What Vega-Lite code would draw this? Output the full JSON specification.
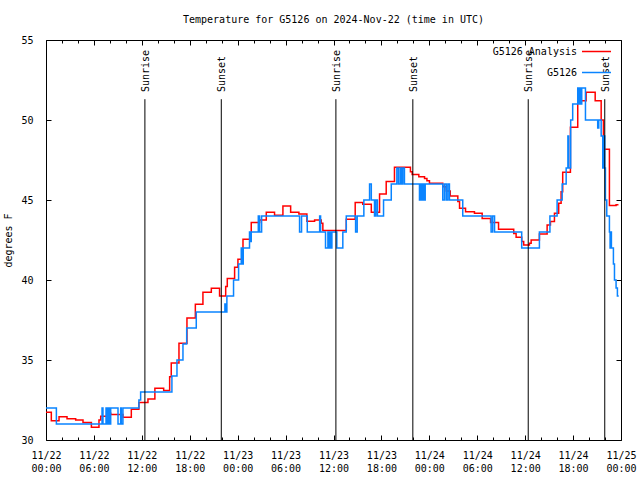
{
  "$schema": "https://vega.github.io/schema/vega-lite/v6.json",
  "width": 575,
  "height": 400,
  "autosize": {"type": "none"},
  "padding": {"left": 46, "top": 40, "right": 19, "bottom": 40},
  "background": "white",
  "title": {"text": "Temperature for G5126 on 2024-Nov-22 (time in UTC)", "font": "DejaVu Sans Mono", "fontSize": 10, "fontWeight": "normal", "anchor": "middle", "frame": "group", "offset": 10, "color": "black"},
  "config": {
    "view": {"stroke": "black", "strokeWidth": 1},
    "font": "DejaVu Sans Mono",
    "axis": {"labelFont": "DejaVu Sans Mono", "labelFontSize": 10, "labelColor": "black", "tickColor": "black", "tickWidth": 1, "domain": false, "grid": false, "titleFont": "DejaVu Sans Mono", "titleFontSize": 10, "titleFontWeight": "normal", "titleColor": "black", "labelFlush": false, "labelOverlap": false, "labelBound": false},
    "legend": {"orient": "none", "legendX": 535, "legendY": -4, "title": null, "symbolType": "M-1,0H1", "symbolSize": 841, "symbolStrokeWidth": 1.5, "labelFont": "DejaVu Sans Mono", "labelFontSize": 10, "labelColor": "black", "labelAlign": "right", "labelOffset": -35, "rowPadding": 0, "padding": 0}
  },
  "datasets": {
    "sun": [
      {"t": "2024-11-22T12:23Z", "label": "Sunrise"},
      {"t": "2024-11-22T21:57Z", "label": "Sunset"},
      {"t": "2024-11-23T12:18Z", "label": "Sunrise"},
      {"t": "2024-11-23T21:56Z", "label": "Sunset"},
      {"t": "2024-11-24T12:23Z", "label": "Sunrise"},
      {"t": "2024-11-24T21:58Z", "label": "Sunset"}
    ],
    "analysis": [
      {"series": "G5126 Analysis", "t": "2024-11-22T00:00Z", "T": 31.73},
      {"series": "G5126 Analysis", "t": "2024-11-22T00:40Z", "T": 31.21},
      {"series": "G5126 Analysis", "t": "2024-11-22T01:38Z", "T": 31.45},
      {"series": "G5126 Analysis", "t": "2024-11-22T02:38Z", "T": 31.33},
      {"series": "G5126 Analysis", "t": "2024-11-22T03:43Z", "T": 31.25},
      {"series": "G5126 Analysis", "t": "2024-11-22T04:38Z", "T": 31.1},
      {"series": "G5126 Analysis", "t": "2024-11-22T05:41Z", "T": 30.8},
      {"series": "G5126 Analysis", "t": "2024-11-22T06:38Z", "T": 31.25},
      {"series": "G5126 Analysis", "t": "2024-11-22T06:51Z", "T": 31.48},
      {"series": "G5126 Analysis", "t": "2024-11-22T07:46Z", "T": 31.67},
      {"series": "G5126 Analysis", "t": "2024-11-22T08:06Z", "T": 31.6},
      {"series": "G5126 Analysis", "t": "2024-11-22T09:38Z", "T": 31.42},
      {"series": "G5126 Analysis", "t": "2024-11-22T10:41Z", "T": 31.92},
      {"series": "G5126 Analysis", "t": "2024-11-22T11:38Z", "T": 32.35},
      {"series": "G5126 Analysis", "t": "2024-11-22T12:46Z", "T": 32.56},
      {"series": "G5126 Analysis", "t": "2024-11-22T13:38Z", "T": 33.23},
      {"series": "G5126 Analysis", "t": "2024-11-22T14:44Z", "T": 33.1},
      {"series": "G5126 Analysis", "t": "2024-11-22T15:29Z", "T": 33.96},
      {"series": "G5126 Analysis", "t": "2024-11-22T15:41Z", "T": 34.81},
      {"series": "G5126 Analysis", "t": "2024-11-22T16:39Z", "T": 36.04},
      {"series": "G5126 Analysis", "t": "2024-11-22T17:39Z", "T": 37.63},
      {"series": "G5126 Analysis", "t": "2024-11-22T18:42Z", "T": 38.48},
      {"series": "G5126 Analysis", "t": "2024-11-22T19:39Z", "T": 39.23},
      {"series": "G5126 Analysis", "t": "2024-11-22T20:42Z", "T": 39.48},
      {"series": "G5126 Analysis", "t": "2024-11-22T21:44Z", "T": 39.0},
      {"series": "G5126 Analysis", "t": "2024-11-22T22:30Z", "T": 39.6},
      {"series": "G5126 Analysis", "t": "2024-11-22T22:42Z", "T": 40.1},
      {"series": "G5126 Analysis", "t": "2024-11-22T23:37Z", "T": 40.8},
      {"series": "G5126 Analysis", "t": "2024-11-23T00:02Z", "T": 41.29},
      {"series": "G5126 Analysis", "t": "2024-11-23T00:40Z", "T": 42.54},
      {"series": "G5126 Analysis", "t": "2024-11-23T01:42Z", "T": 43.6},
      {"series": "G5126 Analysis", "t": "2024-11-23T02:45Z", "T": 43.75},
      {"series": "G5126 Analysis", "t": "2024-11-23T03:35Z", "T": 44.23},
      {"series": "G5126 Analysis", "t": "2024-11-23T04:37Z", "T": 44.04},
      {"series": "G5126 Analysis", "t": "2024-11-23T05:40Z", "T": 44.62},
      {"series": "G5126 Analysis", "t": "2024-11-23T06:38Z", "T": 44.23},
      {"series": "G5126 Analysis", "t": "2024-11-23T07:40Z", "T": 44.12},
      {"series": "G5126 Analysis", "t": "2024-11-23T08:40Z", "T": 43.67},
      {"series": "G5126 Analysis", "t": "2024-11-23T09:38Z", "T": 43.75},
      {"series": "G5126 Analysis", "t": "2024-11-23T10:28Z", "T": 43.54},
      {"series": "G5126 Analysis", "t": "2024-11-23T10:40Z", "T": 43.1},
      {"series": "G5126 Analysis", "t": "2024-11-23T13:36Z", "T": 43.8},
      {"series": "G5126 Analysis", "t": "2024-11-23T14:43Z", "T": 44.85},
      {"series": "G5126 Analysis", "t": "2024-11-23T15:40Z", "T": 44.73},
      {"series": "G5126 Analysis", "t": "2024-11-23T16:44Z", "T": 44.23},
      {"series": "G5126 Analysis", "t": "2024-11-23T17:46Z", "T": 45.38},
      {"series": "G5126 Analysis", "t": "2024-11-23T18:36Z", "T": 46.15},
      {"series": "G5126 Analysis", "t": "2024-11-23T19:38Z", "T": 47.04},
      {"series": "G5126 Analysis", "t": "2024-11-23T21:38Z", "T": 46.77},
      {"series": "G5126 Analysis", "t": "2024-11-23T21:51Z", "T": 46.6},
      {"series": "G5126 Analysis", "t": "2024-11-23T22:41Z", "T": 46.46},
      {"series": "G5126 Analysis", "t": "2024-11-23T23:24Z", "T": 46.35},
      {"series": "G5126 Analysis", "t": "2024-11-23T23:42Z", "T": 46.2},
      {"series": "G5126 Analysis", "t": "2024-11-24T00:01Z", "T": 46.04},
      {"series": "G5126 Analysis", "t": "2024-11-24T01:41Z", "T": 45.83},
      {"series": "G5126 Analysis", "t": "2024-11-24T02:07Z", "T": 45.56},
      {"series": "G5126 Analysis", "t": "2024-11-24T02:37Z", "T": 45.25},
      {"series": "G5126 Analysis", "t": "2024-11-24T03:34Z", "T": 44.9},
      {"series": "G5126 Analysis", "t": "2024-11-24T03:47Z", "T": 44.48},
      {"series": "G5126 Analysis", "t": "2024-11-24T04:32Z", "T": 44.27},
      {"series": "G5126 Analysis", "t": "2024-11-24T05:39Z", "T": 44.17},
      {"series": "G5126 Analysis", "t": "2024-11-24T06:37Z", "T": 43.85},
      {"series": "G5126 Analysis", "t": "2024-11-24T07:40Z", "T": 43.6},
      {"series": "G5126 Analysis", "t": "2024-11-24T08:40Z", "T": 43.17},
      {"series": "G5126 Analysis", "t": "2024-11-24T10:34Z", "T": 42.9},
      {"series": "G5126 Analysis", "t": "2024-11-24T10:52Z", "T": 42.67},
      {"series": "G5126 Analysis", "t": "2024-11-24T11:34Z", "T": 42.4},
      {"series": "G5126 Analysis", "t": "2024-11-24T11:49Z", "T": 42.19},
      {"series": "G5126 Analysis", "t": "2024-11-24T12:32Z", "T": 42.3},
      {"series": "G5126 Analysis", "t": "2024-11-24T12:45Z", "T": 42.5},
      {"series": "G5126 Analysis", "t": "2024-11-24T13:47Z", "T": 42.88},
      {"series": "G5126 Analysis", "t": "2024-11-24T14:45Z", "T": 43.44},
      {"series": "G5126 Analysis", "t": "2024-11-24T15:10Z", "T": 43.65},
      {"series": "G5126 Analysis", "t": "2024-11-24T15:40Z", "T": 44.17},
      {"series": "G5126 Analysis", "t": "2024-11-24T16:12Z", "T": 44.8},
      {"series": "G5126 Analysis", "t": "2024-11-24T16:30Z", "T": 45.52},
      {"series": "G5126 Analysis", "t": "2024-11-24T16:42Z", "T": 46.73},
      {"series": "G5126 Analysis", "t": "2024-11-24T17:40Z", "T": 49.54},
      {"series": "G5126 Analysis", "t": "2024-11-24T18:35Z", "T": 51.2},
      {"series": "G5126 Analysis", "t": "2024-11-24T19:38Z", "T": 51.73},
      {"series": "G5126 Analysis", "t": "2024-11-24T20:46Z", "T": 51.2},
      {"series": "G5126 Analysis", "t": "2024-11-24T21:31Z", "T": 50.0},
      {"series": "G5126 Analysis", "t": "2024-11-24T21:48Z", "T": 48.17},
      {"series": "G5126 Analysis", "t": "2024-11-24T22:33Z", "T": 44.65},
      {"series": "G5126 Analysis", "t": "2024-11-24T23:23Z", "T": 44.7},
      {"series": "G5126 Analysis", "t": "2024-11-24T23:41Z", "T": 44.7}
    ],
    "obs": [
      {"series": "G5126", "t": "2024-11-22T00:00Z", "T": 32},
      {"series": "G5126", "t": "2024-11-22T01:18Z", "T": 31},
      {"series": "G5126", "t": "2024-11-22T07:01Z", "T": 32},
      {"series": "G5126", "t": "2024-11-22T07:08Z", "T": 31},
      {"series": "G5126", "t": "2024-11-22T07:31Z", "T": 32},
      {"series": "G5126", "t": "2024-11-22T07:41Z", "T": 31},
      {"series": "G5126", "t": "2024-11-22T07:51Z", "T": 32},
      {"series": "G5126", "t": "2024-11-22T07:58Z", "T": 31},
      {"series": "G5126", "t": "2024-11-22T08:06Z", "T": 32},
      {"series": "G5126", "t": "2024-11-22T09:01Z", "T": 31},
      {"series": "G5126", "t": "2024-11-22T09:21Z", "T": 32},
      {"series": "G5126", "t": "2024-11-22T09:26Z", "T": 31},
      {"series": "G5126", "t": "2024-11-22T09:38Z", "T": 32},
      {"series": "G5126", "t": "2024-11-22T11:38Z", "T": 32.5},
      {"series": "G5126", "t": "2024-11-22T11:51Z", "T": 33},
      {"series": "G5126", "t": "2024-11-22T15:46Z", "T": 34},
      {"series": "G5126", "t": "2024-11-22T16:24Z", "T": 35},
      {"series": "G5126", "t": "2024-11-22T17:09Z", "T": 36},
      {"series": "G5126", "t": "2024-11-22T17:37Z", "T": 37},
      {"series": "G5126", "t": "2024-11-22T18:49Z", "T": 38},
      {"series": "G5126", "t": "2024-11-22T22:24Z", "T": 38.5},
      {"series": "G5126", "t": "2024-11-22T22:32Z", "T": 38},
      {"series": "G5126", "t": "2024-11-22T22:39Z", "T": 39},
      {"series": "G5126", "t": "2024-11-22T23:29Z", "T": 40},
      {"series": "G5126", "t": "2024-11-23T00:07Z", "T": 41},
      {"series": "G5126", "t": "2024-11-23T00:27Z", "T": 42},
      {"series": "G5126", "t": "2024-11-23T00:35Z", "T": 41},
      {"series": "G5126", "t": "2024-11-23T00:42Z", "T": 42},
      {"series": "G5126", "t": "2024-11-23T01:29Z", "T": 43},
      {"series": "G5126", "t": "2024-11-23T01:37Z", "T": 42.4},
      {"series": "G5126", "t": "2024-11-23T01:42Z", "T": 43},
      {"series": "G5126", "t": "2024-11-23T02:35Z", "T": 44},
      {"series": "G5126", "t": "2024-11-23T02:45Z", "T": 43},
      {"series": "G5126", "t": "2024-11-23T03:00Z", "T": 44},
      {"series": "G5126", "t": "2024-11-23T07:45Z", "T": 43},
      {"series": "G5126", "t": "2024-11-23T08:00Z", "T": 44},
      {"series": "G5126", "t": "2024-11-23T08:43Z", "T": 43},
      {"series": "G5126", "t": "2024-11-23T10:16Z", "T": 44},
      {"series": "G5126", "t": "2024-11-23T10:23Z", "T": 43},
      {"series": "G5126", "t": "2024-11-23T11:00Z", "T": 42},
      {"series": "G5126", "t": "2024-11-23T11:18Z", "T": 43},
      {"series": "G5126", "t": "2024-11-23T11:25Z", "T": 42},
      {"series": "G5126", "t": "2024-11-23T11:33Z", "T": 43},
      {"series": "G5126", "t": "2024-11-23T11:40Z", "T": 42},
      {"series": "G5126", "t": "2024-11-23T11:48Z", "T": 43},
      {"series": "G5126", "t": "2024-11-23T12:25Z", "T": 42},
      {"series": "G5126", "t": "2024-11-23T13:10Z", "T": 43},
      {"series": "G5126", "t": "2024-11-23T13:36Z", "T": 44},
      {"series": "G5126", "t": "2024-11-23T14:46Z", "T": 43},
      {"series": "G5126", "t": "2024-11-23T14:58Z", "T": 44},
      {"series": "G5126", "t": "2024-11-23T15:48Z", "T": 45},
      {"series": "G5126", "t": "2024-11-23T16:31Z", "T": 46},
      {"series": "G5126", "t": "2024-11-23T16:44Z", "T": 45},
      {"series": "G5126", "t": "2024-11-23T17:08Z", "T": 44},
      {"series": "G5126", "t": "2024-11-23T17:18Z", "T": 45},
      {"series": "G5126", "t": "2024-11-23T17:30Z", "T": 44},
      {"series": "G5126", "t": "2024-11-23T18:16Z", "T": 45},
      {"series": "G5126", "t": "2024-11-23T19:14Z", "T": 46},
      {"series": "G5126", "t": "2024-11-23T19:56Z", "T": 47},
      {"series": "G5126", "t": "2024-11-23T20:08Z", "T": 46},
      {"series": "G5126", "t": "2024-11-23T20:21Z", "T": 47},
      {"series": "G5126", "t": "2024-11-23T20:31Z", "T": 46},
      {"series": "G5126", "t": "2024-11-23T20:41Z", "T": 47},
      {"series": "G5126", "t": "2024-11-23T20:53Z", "T": 46},
      {"series": "G5126", "t": "2024-11-23T22:46Z", "T": 45},
      {"series": "G5126", "t": "2024-11-23T22:56Z", "T": 46},
      {"series": "G5126", "t": "2024-11-23T23:07Z", "T": 45},
      {"series": "G5126", "t": "2024-11-23T23:14Z", "T": 46},
      {"series": "G5126", "t": "2024-11-23T23:22Z", "T": 45},
      {"series": "G5126", "t": "2024-11-23T23:29Z", "T": 46},
      {"series": "G5126", "t": "2024-11-24T01:41Z", "T": 45},
      {"series": "G5126", "t": "2024-11-24T01:54Z", "T": 46},
      {"series": "G5126", "t": "2024-11-24T02:07Z", "T": 45},
      {"series": "G5126", "t": "2024-11-24T02:19Z", "T": 46},
      {"series": "G5126", "t": "2024-11-24T02:31Z", "T": 45},
      {"series": "G5126", "t": "2024-11-24T04:11Z", "T": 44},
      {"series": "G5126", "t": "2024-11-24T07:44Z", "T": 43},
      {"series": "G5126", "t": "2024-11-24T07:56Z", "T": 44},
      {"series": "G5126", "t": "2024-11-24T08:10Z", "T": 43},
      {"series": "G5126", "t": "2024-11-24T11:34Z", "T": 42},
      {"series": "G5126", "t": "2024-11-24T13:47Z", "T": 43},
      {"series": "G5126", "t": "2024-11-24T15:06Z", "T": 44},
      {"series": "G5126", "t": "2024-11-24T16:00Z", "T": 45},
      {"series": "G5126", "t": "2024-11-24T16:38Z", "T": 46},
      {"series": "G5126", "t": "2024-11-24T17:08Z", "T": 47},
      {"series": "G5126", "t": "2024-11-24T17:21Z", "T": 49},
      {"series": "G5126", "t": "2024-11-24T17:27Z", "T": 47},
      {"series": "G5126", "t": "2024-11-24T17:42Z", "T": 50},
      {"series": "G5126", "t": "2024-11-24T17:57Z", "T": 51},
      {"series": "G5126", "t": "2024-11-24T18:35Z", "T": 52},
      {"series": "G5126", "t": "2024-11-24T18:43Z", "T": 51},
      {"series": "G5126", "t": "2024-11-24T18:50Z", "T": 52},
      {"series": "G5126", "t": "2024-11-24T18:58Z", "T": 51},
      {"series": "G5126", "t": "2024-11-24T19:05Z", "T": 52},
      {"series": "G5126", "t": "2024-11-24T19:33Z", "T": 50},
      {"series": "G5126", "t": "2024-11-24T21:05Z", "T": 49.5},
      {"series": "G5126", "t": "2024-11-24T21:13Z", "T": 50},
      {"series": "G5126", "t": "2024-11-24T21:31Z", "T": 49},
      {"series": "G5126", "t": "2024-11-24T21:43Z", "T": 47},
      {"series": "G5126", "t": "2024-11-24T21:50Z", "T": 49},
      {"series": "G5126", "t": "2024-11-24T21:58Z", "T": 47},
      {"series": "G5126", "t": "2024-11-24T22:03Z", "T": 45},
      {"series": "G5126", "t": "2024-11-24T22:13Z", "T": 44},
      {"series": "G5126", "t": "2024-11-24T22:33Z", "T": 43},
      {"series": "G5126", "t": "2024-11-24T22:38Z", "T": 42},
      {"series": "G5126", "t": "2024-11-24T22:43Z", "T": 43},
      {"series": "G5126", "t": "2024-11-24T22:48Z", "T": 42},
      {"series": "G5126", "t": "2024-11-24T23:03Z", "T": 41},
      {"series": "G5126", "t": "2024-11-24T23:11Z", "T": 40},
      {"series": "G5126", "t": "2024-11-24T23:23Z", "T": 39.5},
      {"series": "G5126", "t": "2024-11-24T23:33Z", "T": 39},
      {"series": "G5126", "t": "2024-11-24T23:43Z", "T": 39}
    ]
  },
  "layer": [
    {
      "data": {"name": "analysis", "format": {"parse": {"t": "utc:'%Y-%m-%dT%H:%MZ'"}}},
      "mark": {"type": "line", "interpolate": "step-after", "strokeWidth": 1.5},
      "encoding": {
        "x": {"field": "t", "type": "temporal",
          "scale": {"type": "utc", "domain": [1732233600000, 1732492800000], "nice": false},
          "axis": {"orient": "bottom", "title": null, "values": [1732233600000, 1732255200000, 1732276800000, 1732298400000, 1732320000000, 1732341600000, 1732363200000, 1732384800000, 1732406400000, 1732428000000, 1732449600000, 1732471200000, 1732492800000], "offset": -5, "tickSize": 5, "labelPadding": 10, "labelLineHeight": 13, "labelExpr": "[utcFormat(datum.value, '%m/%d'), utcFormat(datum.value, '%H:%M')]"}},
        "y": {"field": "T", "type": "quantitative",
          "scale": {"domain": [30, 55], "nice": false, "zero": false},
          "axis": {"orient": "left", "title": "degrees F", "values": [30, 35, 40, 45, 50, 55], "offset": -5, "tickSize": 5, "labelPadding": 13, "titlePadding": 7}},
        "color": {"field": "series", "type": "nominal",
          "scale": {"domain": ["G5126 Analysis", "G5126"], "range": ["#ff0000", "#0a84ff"]},
          "legend": {}}
      }
    },
    {
      "data": {"name": "obs", "format": {"parse": {"t": "utc:'%Y-%m-%dT%H:%MZ'"}}},
      "mark": {"type": "line", "interpolate": "step-after", "strokeWidth": 1.5},
      "encoding": {
        "x": {"field": "t", "type": "temporal",
          "axis": {"orient": "top", "title": null, "values": [1732233600000, 1732255200000, 1732276800000, 1732298400000, 1732320000000, 1732341600000, 1732363200000, 1732384800000, 1732406400000, 1732428000000, 1732449600000, 1732471200000, 1732492800000], "offset": -5, "tickSize": 5, "labels": false}},
        "y": {"field": "T", "type": "quantitative",
          "axis": {"orient": "right", "title": null, "values": [30, 35, 40, 45, 50, 55], "offset": -5, "tickSize": 5, "labels": false}},
        "color": {"field": "series", "type": "nominal"}
      }
    },
    {
      "data": {"name": "sun", "format": {"parse": {"t": "utc:'%Y-%m-%dT%H:%MZ'"}}},
      "layer": [
        {
          "mark": {"type": "rule", "color": "black", "strokeWidth": 1},
          "encoding": {
            "x": {"field": "t", "type": "temporal",
              "axis": {"orient": "bottom", "title": null, "values": [1732240800000, 1732248000000, 1732262400000, 1732269600000, 1732284000000, 1732291200000, 1732305600000, 1732312800000, 1732327200000, 1732334400000, 1732348800000, 1732356000000, 1732370400000, 1732377600000, 1732392000000, 1732399200000, 1732413600000, 1732420800000, 1732435200000, 1732442400000, 1732456800000, 1732464000000, 1732478400000, 1732485600000], "offset": -3, "tickSize": 3, "labels": false}},
            "y": {"datum": 30, "type": "quantitative", "axis": null},
            "y2": {"datum": 51.3}
          }
        },
        {
          "mark": {"type": "text", "angle": 270, "align": "left", "baseline": "middle", "font": "DejaVu Sans Mono", "fontSize": 10, "color": "black", "dy": 1},
          "encoding": {
            "x": {"field": "t", "type": "temporal",
              "axis": {"orient": "top", "title": null, "values": [1732240800000, 1732248000000, 1732262400000, 1732269600000, 1732284000000, 1732291200000, 1732305600000, 1732312800000, 1732327200000, 1732334400000, 1732348800000, 1732356000000, 1732370400000, 1732377600000, 1732392000000, 1732399200000, 1732413600000, 1732420800000, 1732435200000, 1732442400000, 1732456800000, 1732464000000, 1732478400000, 1732485600000], "offset": -3, "tickSize": 3, "labels": false}},
            "y": {"datum": 51.75, "type": "quantitative", "axis": null},
            "text": {"field": "label"}
          }
        }
      ]
    }
  ],
  "resolve": {"axis": {"x": "independent", "y": "independent"}}
}
